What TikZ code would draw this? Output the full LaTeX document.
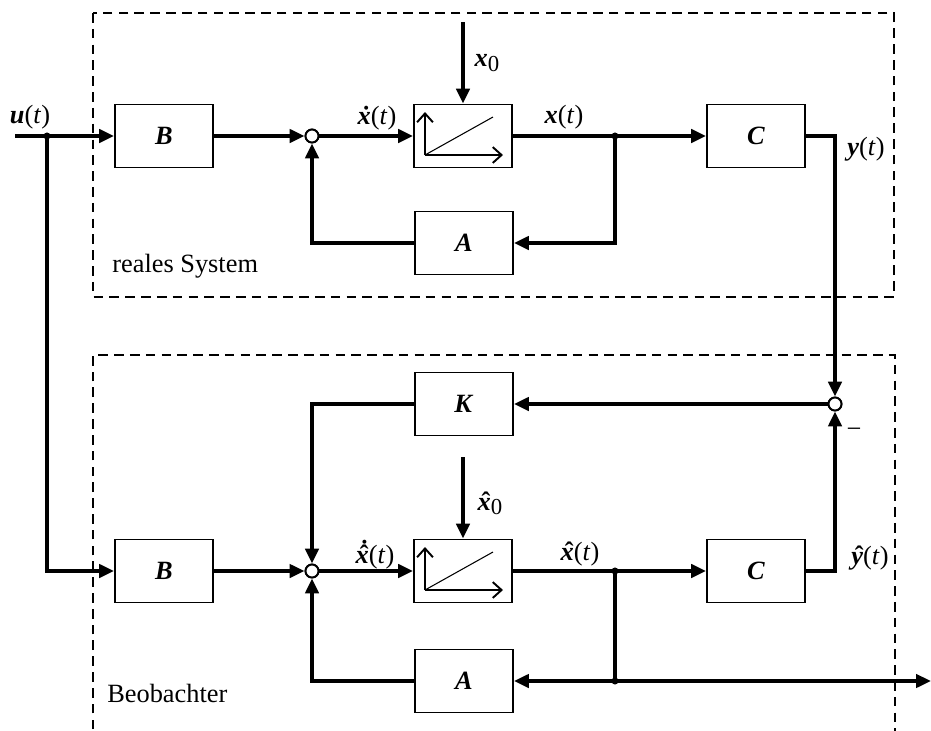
\documentclass[tikz,border=0pt]{standalone}
\usepackage{fontspec}
\setmainfont{Liberation Serif}
\usetikzlibrary{arrows.meta}
\newcommand\bvec[1]{\textbf{\textit{#1}}}
\newcommand\subzero{\raisebox{-0.35ex}{\fontsize{13}{13}\selectfont 0}}
\newcommand\myacc[4]{\setbox0\hbox{#4}\rlap{\hbox to\wd0{\hss\kern#3\raisebox{#2}{\textbf{#1}}\hss}}\box0}
\newcommand\hatv[1]{\myacc{ˆ}{0pt}{0.14em}{\bvec{#1}}}
\newcommand\dotv[1]{\myacc{˙}{0pt}{0.14em}{\bvec{#1}}}
\newcommand\dothatv[1]{\myacc{˙}{0.2em}{0.16em}{\hatv{#1}}}
\begin{document}
\begin{tikzpicture}[x=0.02cm,y=-0.02cm,
  every node/.style={font=\fontsize{15}{18}\selectfont},
  blk/.style={draw,line width=1.1pt,minimum width=1.96cm,minimum height=1.26cm,inner sep=0pt,fill=white},
  sig/.style={line width=2.7pt,-{Triangle[length=8.5pt,width=7.5pt]}},
  sumpt/.style={circle,draw,line width=1.1pt,fill=white,minimum size=0.26cm,inner sep=0pt},
  junc/.style={circle,fill,inner sep=0pt,minimum size=4pt},
  dashbox/.style={line width=0.7pt,dash pattern=on 5.5pt off 3.5pt},
  lbl/.style={inner sep=0pt}]
\useasboundingbox (0,0) rectangle (931,731);
% frames
\draw[dashbox] (93,13) rectangle (894,297);
\draw[dashbox] (93,745) -- (93,355) -- (895,355) -- (895,745);
% top row
\node[blk] (B1) at (164,136) {\bvec{B}};
\node[blk] (I1) at (463,136) {};
\node[blk] (C1) at (756,136) {\bvec{C}};
\node[blk] (A1) at (464,243) {\bvec{A}};
\coordinate (uin) at (15,136);
\coordinate (ub) at (47,136);
\coordinate (xb) at (615,136);
\coordinate (x0) at (463,22);
% bottom row
\node[blk] (K) at (464,404) {\bvec{K}};
\node[blk] (B2) at (164,571) {\bvec{B}};
\node[blk] (I2) at (463,571) {};
\node[blk] (C2) at (756,571) {\bvec{C}};
\node[blk] (A2) at (464,681) {\bvec{A}};
\coordinate (xb2) at (615,571);
\coordinate (xb3) at (615,681);
\coordinate (xout) at (931,681);
\coordinate (x0h) at (463,457);
% summing points
\node[sumpt] (s1) at (312,136) {};
\node[sumpt] (s2) at (835,404) {};
\node[sumpt] (s3) at (312,571) {};
% top connections
\draw[sig] (uin) -- (B1);
\draw[sig] (B1) -- (s1);
\draw[sig] (s1) -- (I1);
\draw[sig] (x0) -- (I1);
\draw[sig] (I1) -- (C1);
\draw[sig] (xb) |- (A1);
\draw[sig] (A1) -| (s1);
\draw[sig] (C1) -| (s2);
% bottom connections
\draw[sig] (ub) |- (B2);
\draw[sig] (s2) -- (K);
\draw[sig] (K) -| (s3);
\draw[sig] (B2) -- (s3);
\draw[sig] (s3) -- (I2);
\draw[sig] (x0h) -- (I2);
\draw[sig] (I2) -- (C2);
\draw[sig] (C2) -| (s2);
\draw[sig] (xb2) |- (A2);
\draw[sig] (A2) -| (s3);
\draw[sig] (xb3) -- (xout);
% junction dots
\node[junc] at (ub) {};
\node[junc] at (xb) {};
\node[junc] at (xb2) {};
\node[junc] at (xb3) {};
% redraw summing points on top
\node[sumpt] at (s1) {};
\node[sumpt] at (s2) {};
\node[sumpt] at (s3) {};
% integrator symbols
\foreach \c in {I1,I2}{
  \begin{scope}[shift={(\c.center)}]
    \draw[line width=1.1pt,-{Straight Barb[length=5pt,width=9pt]}] (-38,19) -- (-38,-24);
    \draw[line width=1.1pt,-{Straight Barb[length=5pt,width=9pt]}] (-38,19) -- (40,19);
    \draw[line width=0.6pt] (-38,19) -- (30,-19);
  \end{scope}
}
% labels
\node[lbl] (lu) at (30,117) {\bvec{u}(\textit{t})};
\node[lbl] (lxd) at (377,118) {\dotv{x}(\textit{t})};
\node[lbl] (lx) at (564,117) {\bvec{x}(\textit{t})};
\node[lbl] (lx0) at (487,63) {\bvec{x}\subzero};
\node[lbl] (ly) at (866,149) {\bvec{y}(\textit{t})};
\node[lbl] (lxhd) at (375,555) {\dothatv{x}(\textit{t})};
\node[lbl] (lxh0) at (490,503) {\hatv{x}\subzero};
\node[lbl] (lxh) at (580,554) {\hatv{x}(\textit{t})};
\node[lbl] (lyh) at (870,558) {\hatv{y}(\textit{t})};
\node[lbl] (lminus) at (854,433) {−};
\node[lbl,anchor=west] (lreal) at (112,266) {reales System};
\node[lbl,anchor=west] (lbeo) at (107,693) {Beobachter};
\end{tikzpicture}
\end{document}
